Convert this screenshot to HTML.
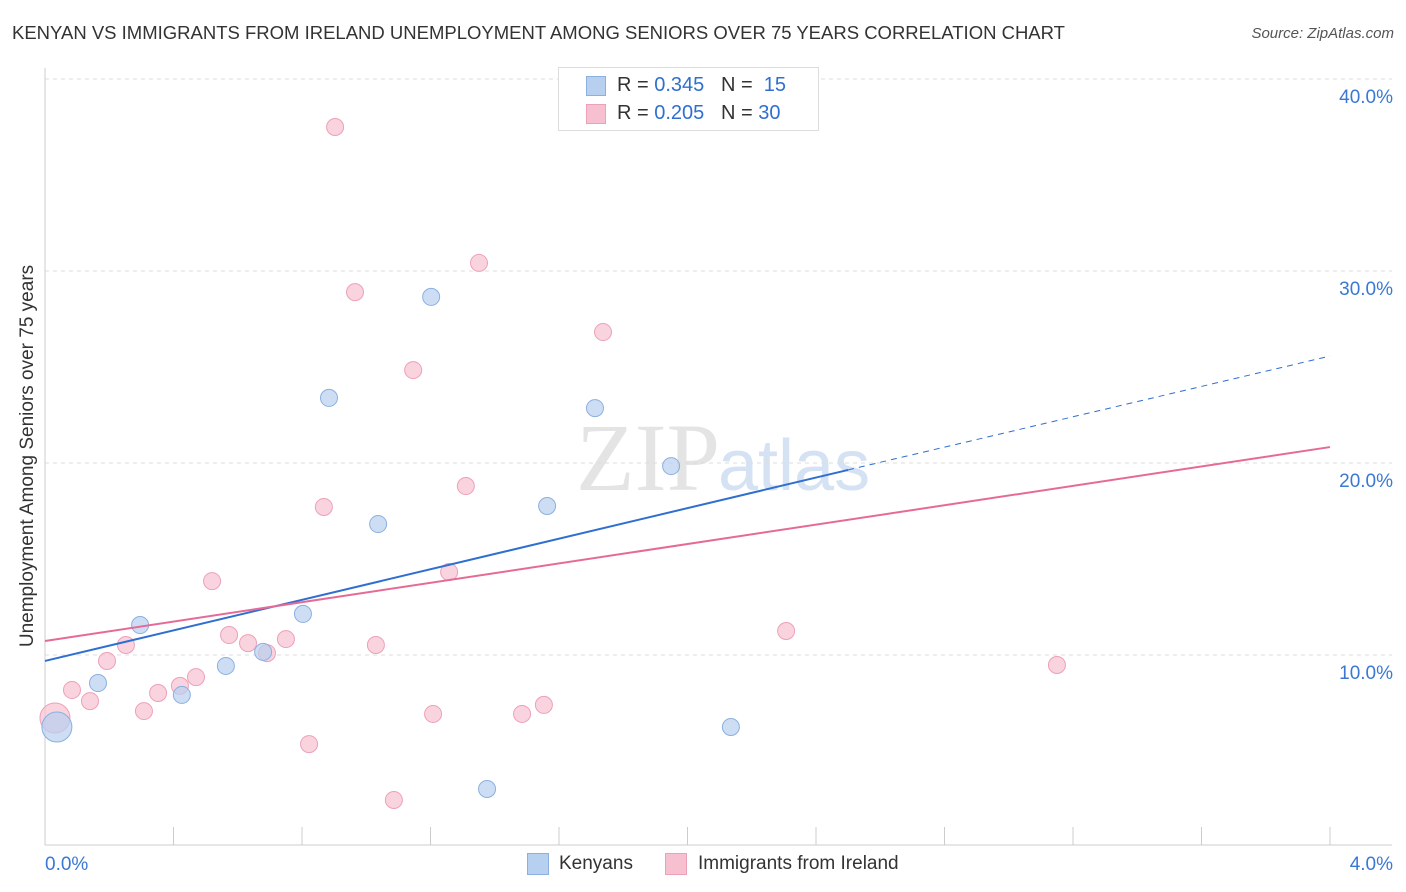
<!DOCTYPE html>
<html><head><meta charset="utf-8">
<style>
body{margin:0;background:#fff;font-family:"Liberation Sans",sans-serif;}
#wrap{position:relative;width:1406px;height:892px;overflow:hidden;}
.t{position:absolute;white-space:nowrap;}
</style></head>
<body>
<div id="wrap">
<div class="t" style="left:12px;top:22px;font-size:18.5px;color:#333;">KENYAN VS IMMIGRANTS FROM IRELAND UNEMPLOYMENT AMONG SENIORS OVER 75 YEARS CORRELATION CHART</div>
<div class="t" style="right:12px;top:25px;font-size:15px;color:#555;font-style:italic;">Source: ZipAtlas.com</div>
<svg id="plot" width="1406" height="892" style="position:absolute;left:0;top:0">
<text x="720" y="490" font-size="96" font-family="Liberation Serif" fill="#e4e4e4" text-anchor="end">ZIP</text>
<text x="718" y="490" font-size="72" fill="#d4e2f4">atlas</text>
</svg>
<div class="t" style="left:28px;top:456px;font-size:19px;color:#333;transform:translate(-50%,-50%) rotate(-90deg);">Unemployment Among Seniors over 75 years</div>
<div style="position:absolute;left:558px;top:67px;width:259px;height:62px;border:1px solid #ddd;background:#fff;font-size:20px;color:#333;">
 <div style="position:absolute;left:27px;top:8px;width:18px;height:18px;background:#b8d0f0;border:1px solid #8ab0e0;"></div>
 <div class="t" style="left:58px;top:6px;">R = <span style="color:#2f6fd0">0.345</span>&nbsp;&nbsp;&nbsp;N = &nbsp;<span style="color:#2f6fd0">15</span></div>
 <div style="position:absolute;left:27px;top:36px;width:18px;height:18px;background:#f7c0d0;border:1px solid #eea0b8;"></div>
 <div class="t" style="left:58px;top:34px;">R = <span style="color:#2f6fd0">0.205</span>&nbsp;&nbsp;&nbsp;N = <span style="color:#2f6fd0">30</span></div>
</div>
<div style="position:absolute;left:527px;top:853px;font-size:19px;color:#333;">
 <div style="position:absolute;left:0;top:0;width:20px;height:20px;background:#b8d0f0;border:1px solid #8ab0e0;"></div>
 <div class="t" style="left:32px;top:0;">Kenyans</div>
 <div style="position:absolute;left:138px;top:0;width:20px;height:20px;background:#f7c0d0;border:1px solid #eea0b8;"></div>
 <div class="t" style="left:171px;top:0;">Immigrants from Ireland</div>
</div>
</div>
<script>
const blueX=[0.037,0.165,0.296,0.426,0.563,0.679,0.803,0.884,1.037,1.202,1.376,1.563,1.712,1.949,2.135];
const blueY=[6.25,8.54,11.56,7.92,9.43,10.16,12.14,23.39,16.82,28.65,3.02,17.76,22.86,19.84,6.25];
const pinkX=[0.031,0.084,0.140,0.193,0.252,0.308,0.352,0.420,0.470,0.520,0.573,0.632,0.691,0.750,0.822,0.868,0.903,0.965,1.030,1.086,1.146,1.208,1.258,1.310,1.351,1.485,1.553,1.737,2.307,3.150];
const pinkY=[6.72,8.18,7.60,9.69,10.52,7.08,8.02,8.39,8.85,13.85,11.04,10.62,10.10,10.83,5.36,17.71,37.50,28.90,10.52,2.45,24.84,6.93,14.32,18.80,30.42,6.93,7.40,26.82,11.25,9.48];
const yTicks=[10,20,30,40];
const yTickLabels=["10.0%","20.0%","30.0%","40.0%"];
const xTicks=[0,0.4,0.8,1.2,1.6,2.0,2.4,2.8,3.2,3.6,4.0];
const blueTrend=[[0,9.69],[2.5,19.64],[4.0,25.57]];
const pinkTrend=[[0,10.73],[4.0,20.83]];
const sx=v=>45+v/4*1285, sy=v=>847-v*19.2;
const svg=document.getElementById('plot'),NS='http://www.w3.org/2000/svg';
function mk(t,a,name){const e=document.createElementNS(NS,t);for(const k in a)e.setAttribute(k,a[k]);


svg.appendChild(e);return e;}
yTicks.forEach((v,i)=>{
mk('line',{x1:45,x2:1392,y1:sy(v),y2:sy(v),stroke:'#ddd','stroke-dasharray':'4,4'},'gridline');
const t=mk('text',{x:1393,y:sy(v)+24,'font-size':19,fill:'#3a78d4','text-anchor':'end'},'y-tick-label');t.textContent=yTickLabels[i];});
mk('line',{x1:45,x2:1392,y1:79,y2:79,stroke:'#ddd','stroke-dasharray':'4,4'},'top-gridline');
mk('line',{x1:45,x2:45,y1:68,y2:845,stroke:'#ccc'},'y-axis');
mk('line',{x1:45,x2:1392,y1:845,y2:845,stroke:'#ccc'},'x-axis');
xTicks.forEach(v=>mk('line',{x1:sx(v),x2:sx(v),y1:827,y2:845,stroke:'#ccc'},'x-tick'));
let t=mk('text',{x:45,y:870,'font-size':19,fill:'#3a78d4'},'x-tick-label');t.textContent='0.0%';
t=mk('text',{x:1393,y:870,'font-size':19,fill:'#3a78d4','text-anchor':'end'},'x-tick-label');t.textContent='4.0%';
pinkX.forEach((x,i)=>mk('circle',{cx:sx(x),cy:sy(pinkY[i]),r:i==0?15:8.5,fill:'#f7c0d0','fill-opacity':0.7,stroke:'#eea0b8'},'ireland-point'));
blueX.forEach((x,i)=>mk('circle',{cx:sx(x),cy:sy(blueY[i]),r:i==0?15:8.5,fill:'#b8d0f0','fill-opacity':0.7,stroke:'#8ab0e0'},'kenyan-point'));
mk('line',{x1:sx(blueTrend[0][0]),y1:sy(blueTrend[0][1]),x2:sx(blueTrend[1][0]),y2:sy(blueTrend[1][1]),stroke:'#2f6fd0','stroke-width':2},'kenyan-trendline');
mk('line',{x1:sx(blueTrend[1][0]),y1:sy(blueTrend[1][1]),x2:sx(blueTrend[2][0]),y2:sy(blueTrend[2][1]),stroke:'#2f6fd0','stroke-width':1,'stroke-dasharray':'6,5'},'kenyan-trendline-extension');
mk('line',{x1:sx(pinkTrend[0][0]),y1:sy(pinkTrend[0][1]),x2:sx(pinkTrend[1][0]),y2:sy(pinkTrend[1][1]),stroke:'#e66a96','stroke-width':2},'ireland-trendline');
</script>
</body></html>
